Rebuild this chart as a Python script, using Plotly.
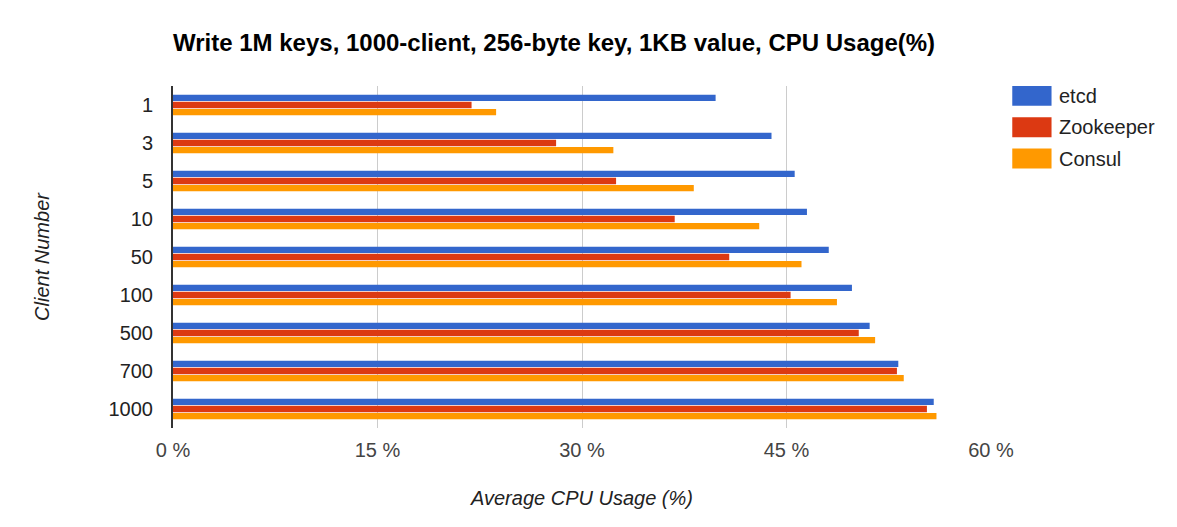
import plotly.graph_objects as go

categories = ["1", "3", "5", "10", "50", "100", "500", "700", "1000"]
etcd = [39.8, 43.9, 45.6, 46.5, 48.1, 49.8, 51.1, 53.2, 55.8]
zookeeper = [21.9, 28.1, 32.5, 36.8, 40.8, 45.3, 50.3, 53.1, 55.3]
consul = [23.7, 32.3, 38.2, 43.0, 46.1, 48.7, 51.5, 53.6, 56.0]
series_names = ["etcd", "Zookeeper", "Consul"]
series_values = [etcd, zookeeper, consul]
colors = ["#3366cc", "#dc3912", "#ff9900"]
x_ticks = [0, 15, 30, 45, 60]
x_tick_labels = [f"{v} %" for v in x_ticks]

FONT = "Liberation Sans, Arial, sans-serif"

fig = go.Figure()
for name, vals, col in zip(series_names, series_values, colors):
    fig.add_trace(go.Bar(y=categories, x=vals, name=name, orientation="h",
                         marker=dict(color=col, line=dict(width=0)),
                         showlegend=False))

# custom legend
for i, (name, col) in enumerate(zip(series_names, colors)):
    y0 = 1 - i * 0.0915
    fig.add_shape(type="rect", xref="paper", yref="paper",
                  x0=1.026, x1=1.074, y0=y0 - 0.058, y1=y0 + 0.0,
                  fillcolor=col, line=dict(width=0))
    fig.add_annotation(xref="paper", yref="paper", x=1.0806, y=y0 - 0.029,
                       text=name, showarrow=False, xanchor="left", yanchor="middle",
                       font=dict(family=FONT, size=20, color="#222222"))

fig.update_layout(
    width=1169, height=519,
    margin=dict(l=165, r=186, t=78, b=99),
    paper_bgcolor="white", plot_bgcolor="white",
    barmode="group", bargap=0.44, bargroupgap=0.1,
    font=dict(family=FONT, size=20, color="#222222"),
    title=dict(text="<b>Write 1M keys, 1000-client, 256-byte key, 1KB value, CPU Usage(%)</b>",
               x=0, xref="paper", xanchor="left", y=0.934, yanchor="middle",
               font=dict(family=FONT, size=24, color="#000000")),
    xaxis=dict(range=[0, 60], tickmode="array", tickvals=x_ticks, ticktext=x_tick_labels,
               showgrid=True, gridcolor="#cccccc", gridwidth=1,
               zeroline=False, showline=False, automargin=False,
               tickfont=dict(family=FONT, size=20, color="#444444"),
               ticklabelstandoff=8,
               title=dict(text="<i>Average CPU Usage (%)</i>", standoff=30,
                          font=dict(family=FONT, size=20, color="#222222"))),
    yaxis=dict(autorange="reversed", showgrid=False, zeroline=False,
               showline=True, linecolor="#333333", linewidth=2, automargin=False,
               tickfont=dict(family=FONT, size=20, color="#222222"),
               ticklabelstandoff=14,
               title=dict(text="<i>Client Number</i>", standoff=54,
                          font=dict(family=FONT, size=20, color="#222222"))),
)

fig.write_html("out.html")
